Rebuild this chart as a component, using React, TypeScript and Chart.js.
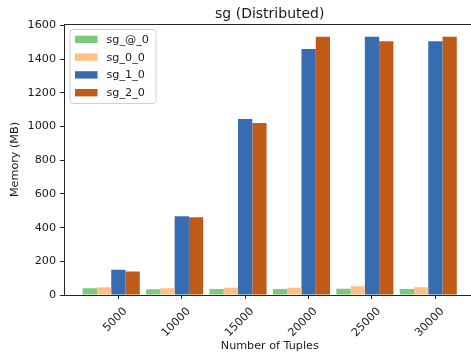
import React, { useEffect, useRef } from "react";
import { Chart, registerables } from "chart.js";

Chart.register(...registerables);

const categories = [5000, 10000, 15000, 20000, 25000, 30000];
const seriesNames = ["sg_@_0", "sg_0_0", "sg_1_0", "sg_2_0"];
const sgAt0 = [40, 34, 35, 35, 37, 35];
const sg00 = [46, 40, 43, 43, 52, 46];
const sg10 = [150, 468, 1045, 1460, 1532, 1505];
const sg20 = [140, 462, 1020, 1532, 1505, 1532];
const colors = ["#7fc97f", "#fdc086", "#386cb0", "#bf5b17"];
const yTicks = [0, 200, 400, 600, 800, 1000, 1200, 1400, 1600];
const yMax = 1608;

const FONT = "'DejaVu Sans', sans-serif";
const FS = 11.2;
const TXT = "#1a1a1a";
const AX = "#262626";

export default function App() {
  const ref = useRef<HTMLCanvasElement | null>(null);

  useEffect(() => {
    const canvas = ref.current!;
    const allSeries = [sgAt0, sg00, sg10, sg20];
    const spacing = categories[1] - categories[0];
    const groupFrac = 0.9;
    const barFrac = groupFrac / allSeries.length;
    // ticks sit at the centre of the third bar of each group (matplotlib style)
    const tickShift = barFrac * 0.5 * spacing;
    const span = categories[categories.length - 1] - categories[0] + groupFrac * spacing;
    const margin = 0.05 * span;
    const xMin = categories[0] - (groupFrac / 2) * spacing - margin;
    const xMax = categories[categories.length - 1] + (groupFrac / 2) * spacing + margin;

    const frame = {
      id: "frame",
      afterDatasetsDraw(chart: any) {
        const { ctx, chartArea } = chart;
        ctx.save();
        ctx.strokeStyle = AX;
        ctx.lineWidth = 1;
        ctx.beginPath();
        ctx.moveTo(chartArea.left, Math.round(chartArea.top) + 0.5);
        ctx.lineTo(chartArea.right, Math.round(chartArea.top) + 0.5);
        ctx.stroke();
        // legend
        const lx = chartArea.left + 6;
        const ly = chartArea.top + 5.5;
        const w = 86;
        const h = 74;
        const r = 3;
        ctx.beginPath();
        ctx.moveTo(lx + r, ly);
        ctx.arcTo(lx + w, ly, lx + w, ly + h, r);
        ctx.arcTo(lx + w, ly + h, lx, ly + h, r);
        ctx.arcTo(lx, ly + h, lx, ly, r);
        ctx.arcTo(lx, ly, lx + w, ly, r);
        ctx.closePath();
        ctx.fillStyle = "rgba(255,255,255,0.8)";
        ctx.fill();
        ctx.strokeStyle = "#d0d0d0";
        ctx.stroke();
        ctx.font = `${FS}px ${FONT}`;
        ctx.textBaseline = "middle";
        ctx.textAlign = "left";
        chart.data.datasets.forEach((ds: any, i: number) => {
          const cy = ly + 9.8 + i * 17.8;
          ctx.fillStyle = ds.backgroundColor;
          ctx.fillRect(lx + 5, cy - 3.7, 22.5, 7.4);
          ctx.fillStyle = TXT;
          ctx.fillText(ds.label, lx + 36.5, cy + 0.5);
        });
        ctx.restore();
      },
    };

    const chart = new Chart(canvas, {
      type: "bar",
      data: {
        datasets: allSeries.map((vals, i) => ({
          label: seriesNames[i],
          data: categories.map((c, j) => ({ x: c, y: vals[j] })),
          backgroundColor: colors[i],
          borderWidth: 0,
          categoryPercentage: groupFrac,
          barPercentage: 1.0,
        })),
      },
      options: {
        responsive: false,
        animation: false,
        devicePixelRatio: 1,
        layout: { padding: { left: 0, right: 14.5, top: 0, bottom: 0 } },
        plugins: {
          legend: { display: false },
          tooltip: { enabled: false },
          title: {
            display: true,
            text: "sg (Distributed)",
            fullSize: false,
            color: TXT,
            font: { family: FONT, size: 14, weight: "normal" },
            padding: { top: 5.6, bottom: 1.6 },
          },
        },
        scales: {
          x: {
            type: "linear",
            offset: false,
            min: xMin,
            max: xMax,
            afterBuildTicks: (axis: any) => {
              axis.ticks = categories.map((c) => ({ value: c + tickShift }));
            },
            afterFit: (scale: any) => {
              scale.height = 58;
            },
            ticks: {
              callback: (_v: any, i: number) => String(categories[i]),
              color: TXT,
              font: { family: FONT, size: FS },
              minRotation: 45,
              maxRotation: 45,
              labelOffset: 7,
              padding: 6,
              autoSkip: false,
            },
            grid: {
              offset: false,
              drawOnChartArea: false,
              tickLength: 4,
              tickColor: AX,
              tickWidth: 1,
            },
            border: { display: true, color: AX, width: 1 },
            title: {
              display: true,
              text: "Number of Tuples",
              color: TXT,
              font: { family: FONT, size: FS },
              padding: { top: 0, bottom: 0 },
            },
          },
          y: {
            min: 0,
            max: yMax,
            afterBuildTicks: (axis: any) => {
              axis.ticks = yTicks.map((v) => ({ value: v }));
            },
            afterFit: (scale: any) => {
              scale.width = 64;
            },
            ticks: {
              callback: (v: any) => String(v),
              color: TXT,
              font: { family: FONT, size: FS },
              padding: 4,
            },
            grid: {
              drawOnChartArea: false,
              tickLength: 4,
              tickColor: AX,
              tickWidth: 1,
            },
            border: { display: true, color: AX, width: 1 },
            title: {
              display: true,
              text: "Memory (MB)",
              color: TXT,
              font: { family: FONT, size: FS },
              padding: { top: 8.5, bottom: 0 },
            },
          },
        },
      },
      plugins: [frame],
    } as any);
    return () => chart.destroy();
  }, []);

  return (
    <div
      style={{
        position: "fixed",
        left: 0,
        top: 0,
        width: 471,
        height: 353,
        overflow: "hidden",
        background: "#fff",
      }}
    >
      <canvas ref={ref} width={490} height={353} style={{ display: "block" }} />
    </div>
  );
}
